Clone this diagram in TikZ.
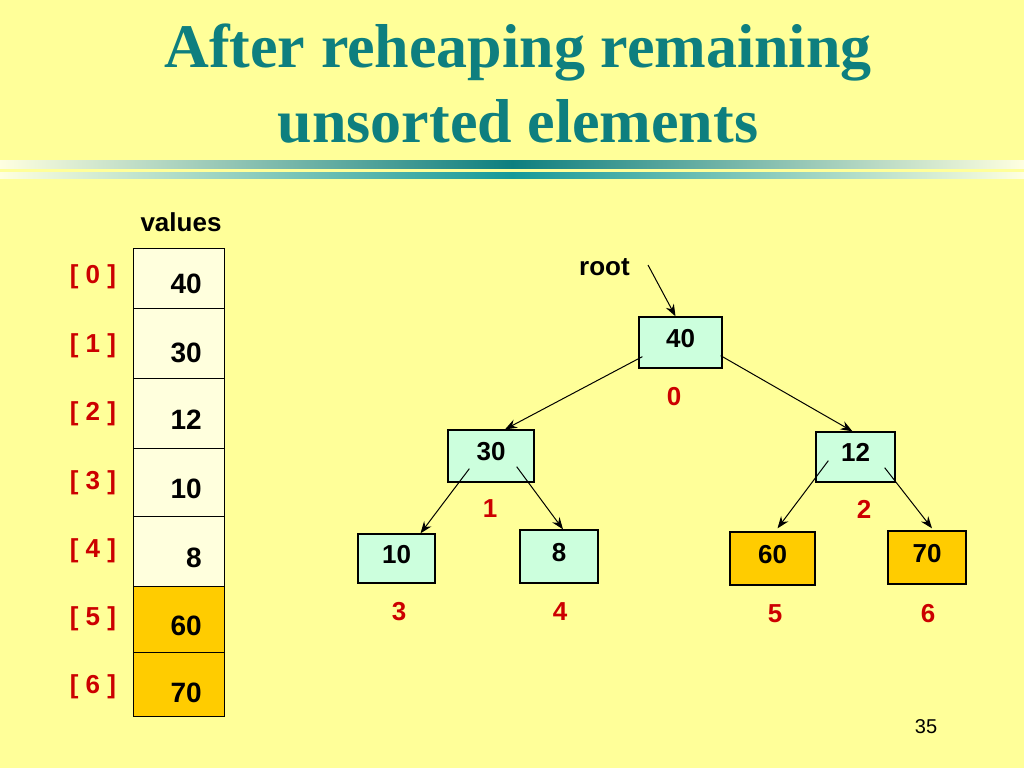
\documentclass[tikz,border=0pt]{standalone}
\usepackage{fontspec}
\setmainfont{Liberation Serif}
\newfontfamily\arial{Liberation Sans}
\usetikzlibrary{arrows.meta,calc}
\definecolor{bgyellow}{HTML}{FFFF99}
\definecolor{titleteal}{HTML}{0E7F7F}
\definecolor{bardark}{HTML}{0E7F7F}
\definecolor{barlight}{HTML}{169999}
\definecolor{barpale}{HTML}{FFFFE0}
\definecolor{idxred}{HTML}{CC0000}
\definecolor{cellpale}{HTML}{FFFFDD}
\definecolor{mint}{HTML}{CCFFDD}
\definecolor{gold}{HTML}{FFCC00}
\tikzset{
  titletext/.style={text=titleteal, font={\bfseries\fontsize{62}{74}\selectfont}, inner sep=0pt, anchor=base},
  cell/.style={draw, line width=1.3pt, minimum width=91pt, inner sep=0pt, anchor=north west},
  val/.style={font={\arial\bfseries\fontsize{28}{34}\selectfont}, inner sep=0pt, anchor=base east},
  idx/.style={text=idxred, font={\arial\bfseries\fontsize{26}{30}\selectfont}, inner sep=0pt, anchor=base},
  hdr/.style={font={\arial\bfseries\fontsize{26}{30}\selectfont}, inner sep=0pt, anchor=base},
  tnode/.style={draw, line width=1.3pt, inner sep=0pt, text height=18pt, text depth=9pt, font={\arial\bfseries\fontsize{26}{30}\selectfont}},
  tidx/.style={text=idxred, font={\arial\bfseries\fontsize{26}{30}\selectfont}, inner sep=0pt, anchor=base},
  arr/.style={line width=1pt, -{Stealth[length=12pt,width=9pt,inset=4pt]}}
}
\begin{document}
\begin{tikzpicture}[x=1pt,y=-1pt]
\fill[bgyellow] (0,0) rectangle (1024,768);
\useasboundingbox (0,0) rectangle (1024,768);
% title
\node[titletext] (t1) at (518,67) {After reheaping remaining};
\node[titletext] (t2) at (518,142) {unsorted elements};
% bars
\shade[left color=barpale, right color=barpale, middle color=bardark] (0,160) rectangle (1024,168);
\shade[left color=barpale, right color=barpale, middle color=barlight] (0,172) rectangle (1024,178);
% array
\node[hdr] (vh) at (181,231) {values};
\node[cell, fill=cellpale, minimum height=60pt] (c0) at (133,248) {};
\node[cell, fill=cellpale, minimum height=70pt] (c1) at (133,308) {};
\node[cell, fill=cellpale, minimum height=70pt] (c2) at (133,378) {};
\node[cell, fill=cellpale, minimum height=68pt] (c3) at (133,448) {};
\node[cell, fill=cellpale, minimum height=70pt] (c4) at (133,516) {};
\node[cell, fill=gold, minimum height=66pt] (c5) at (133,586) {};
\node[cell, fill=gold, minimum height=64pt] (c6) at (133,652) {};
\node[val] (v0) at (202,293) {40};
\node[val] (v1) at (202,362) {30};
\node[val] (v2) at (202,429) {12};
\node[val] (v3) at (202,498) {10};
\node[val] (v4) at (202,567) {8};
\node[val] (v5) at (202,635) {60};
\node[val] (v6) at (202,702) {70};
\node[idx] (i0) at (93,283) {[ 0 ]};
\node[idx] (i1) at (93,352) {[ 1 ]};
\node[idx] (i2) at (93,420) {[ 2 ]};
\node[idx] (i3) at (93,489) {[ 3 ]};
\node[idx] (i4) at (93,557) {[ 4 ]};
\node[idx] (i5) at (93,625) {[ 5 ]};
\node[idx] (i6) at (93,693) {[ 6 ]};
% tree
\node[tnode, fill=mint, minimum width=83pt, minimum height=51pt] (n40) at (680.5,342.5) {40};
\node[tnode, fill=mint, minimum width=86pt, minimum height=52pt] (n30) at (491,456) {30};
\node[tnode, fill=mint, minimum width=79pt, minimum height=50pt] (n12) at (855.5,457) {12};
\node[tnode, fill=mint, minimum width=77pt, minimum height=49pt] (n10) at (396.5,558.5) {10};
\node[tnode, fill=mint, minimum width=78pt, minimum height=53pt] (n8) at (559,556.5) {8};
\node[tnode, fill=gold, minimum width=85pt, minimum height=53pt] (n60) at (772.5,558.5) {60};
\node[tnode, fill=gold, minimum width=78pt, minimum height=53pt] (n70) at (927,557.5) {70};
\node[tidx] (l0) at (674,405) {0};
\node[tidx] (l1) at (490,517) {1};
\node[tidx] (l2) at (864,518) {2};
\node[tidx] (l3) at (399,620) {3};
\node[tidx] (l4) at (560,620) {4};
\node[tidx] (l5) at (775,622) {5};
\node[tidx] (l6) at (928,622) {6};
\node[hdr] (rootlbl) at (604.5,275) {root};
\coordinate (rootptr) at (648,265);
\draw[arr] (rootptr) -- ($(n40.north)+(-5,0)$);
\draw[arr] ($(n40.south west)+(4,-12)$) -- ($(n30.north)+(14,0)$);
\draw[arr] ($(n40.south east)+(-2,-13)$) -- ($(n12.north)+(-3,0)$);
\draw[arr] ($(n30.south west)+(22,-14)$) -- ($(n10.north)+(24,0)$);
\draw[arr] ($(n30.south east)+(-18,-16)$) -- ($(n8.north)+(4,0)$);
\draw[arr] ($(n12.south west)+(13,-22)$) -- ($(n60.north)+(5,-3)$);
\draw[arr] ($(n12.south east)+(-11,-15)$) -- ($(n70.north)+(5,-2)$);
% page number
\node[font={\arial\fontsize{20}{24}\selectfont}, inner sep=0pt, anchor=base] (pg) at (926,733) {35};
\end{tikzpicture}
\end{document}
